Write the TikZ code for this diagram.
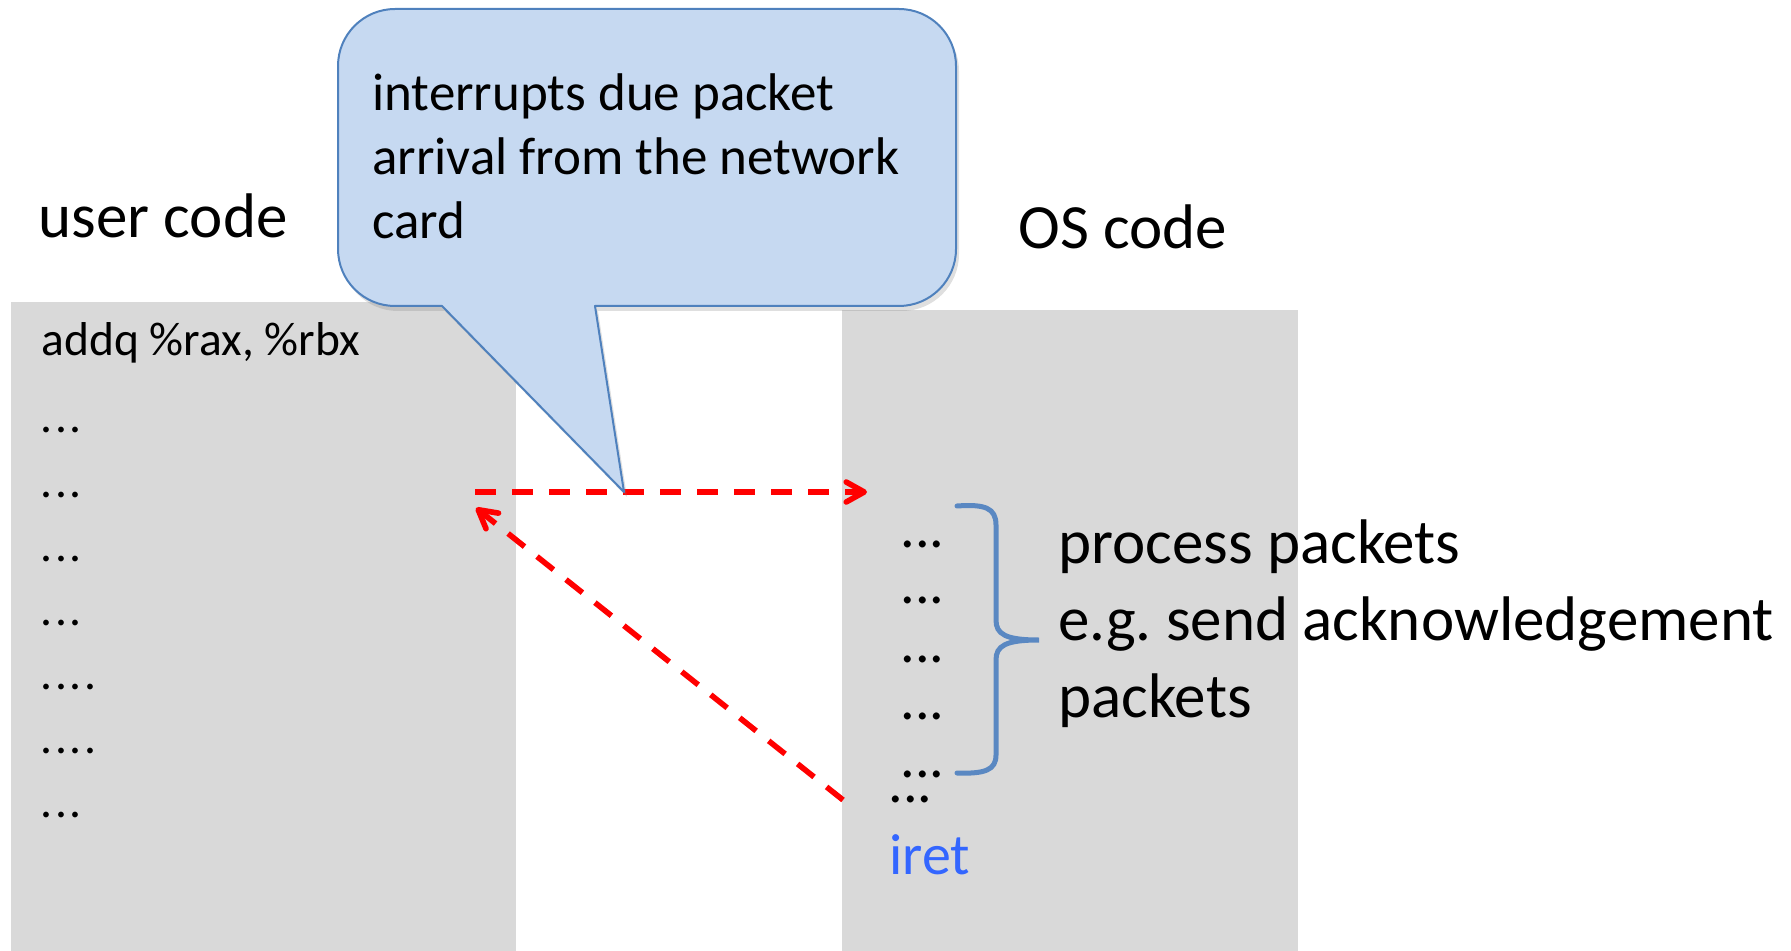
\documentclass[tikz,border=0pt]{standalone}
\usepackage{fontspec}
\setmainfont{Carlito}
\frenchspacing
\usetikzlibrary{arrows.meta,shadows}
\definecolor{panelgray}{HTML}{D9D9D9}
\definecolor{calloutfill}{HTML}{C6D9F1}
\definecolor{calloutline}{HTML}{4F81BD}
\definecolor{bracecol}{HTML}{5A88C2}
\definecolor{iretblue}{HTML}{3366FF}
\definecolor{arrowred}{HTML}{FF0000}
% spaced-out row of dots in the listings
\newcommand{\threedots}{.\kern1.4pt.\kern1.4pt.}
\newcommand{\fourdots}{.\kern1.4pt.\kern1.4pt.\kern1.4pt.}
\tikzset{
  panel/.style={fill=panelgray, draw=none, anchor=north west, inner sep=0},
  biglabel/.style={font=\fontsize{31.5pt}{38pt}\selectfont, anchor=base west, inner sep=0},
  callouttext/.style={font=\fontsize{26.5pt}{32pt}\selectfont, anchor=base west, inner sep=0},
  codetext/.style={font=\fontsize{23.75pt}{28pt}\selectfont, anchor=base west, inner sep=0},
  ostext/.style={font=\fontsize{29pt}{34pt}\selectfont, anchor=base west, inner sep=0},
  flow/.style={arrowred, line width=2.8pt, dash pattern=on 10.5pt off 8pt,
    -{Straight Barb[length=9pt,width=10pt,line cap=round,line join=round]}},
}
\begin{document}
\begin{tikzpicture}[x=0.5pt,y=-0.5pt]
\useasboundingbox (0,0) rectangle (1791,951);

% code panels
\node[panel, minimum width=252.5pt, minimum height=324.5pt] (userpanel) at (11,302) {};
\node[panel, minimum width=228pt, minimum height=320.5pt] (ospanel) at (842,310) {};

% headings
\node[biglabel] (usercode) at (38,238) {user code};
\node[biglabel] (oscode) at (1018,249) {OS code};

% user code listing
\node[codetext] (addq) at (41,356) {addq \%rax, \%rbx};
\node[codetext] (u1) at (40,433) {\threedots};
\node[codetext] (u2) at (40,497) {\threedots};
\node[codetext] (u3) at (40,561) {\threedots};
\node[codetext] (u4) at (40,625) {\threedots};
\node[codetext] (u5) at (40,689) {\fourdots};
\node[codetext] (u6) at (40,753) {\fourdots};
\node[codetext] (u7) at (40,817) {\threedots};

% OS handler listing
\node[ostext] (o1) at (900,547) {...};
\node[ostext] (o2) at (900,603) {...};
\node[ostext] (o3) at (900,662) {...};
\node[ostext] (o4) at (900,719) {...};
\node[ostext] (o5) at (900,777) {...};
\node[ostext] (o6) at (888,802) {...};
\node[ostext, text=iretblue] (iret) at (889,874) {iret};

% brace and its description
\draw[bracecol, line width=2.5pt, line cap=round]
  (957,506) .. controls (985,504) and (996,508) .. (996,525)
  -- (996,620) .. controls (996,634) and (1005,640) .. (1039,640)
  .. controls (1005,640) and (996,646) .. (996,660)
  -- (996,755) .. controls (996,770) and (985,774) .. (957,773);
\node[biglabel] (proc1) at (1058,563) {process packets};
\node[biglabel] (proc2) at (1058,640) {e.g. send acknowledgement};
\node[biglabel] (proc3) at (1058,717) {packets};

% interrupt transfer and return
\coordinate (intfrom) at (475,492);
\coordinate (intto) at (867,492);
\coordinate (retfrom) at (843,800);
\coordinate (retto) at (476,508);
\draw[flow] (intfrom) -- (intto);
\draw[flow] (retfrom) -- (retto);

% speech bubble
\draw[calloutline, fill=calloutfill, line width=1pt, line join=round,
      drop shadow={opacity=0.25, shadow xshift=1.5pt, shadow yshift=-2.5pt}]
  (442,306) -- (395,306)
  arc[start angle=270, end angle=180, radius=28.5pt]
  -- (338,66)
  arc[start angle=180, end angle=90, radius=28.5pt]
  -- (899,9)
  arc[start angle=90, end angle=0, radius=28.5pt]
  -- (956,249)
  arc[start angle=0, end angle=-90, radius=28.5pt]
  -- (595,306) -- (624,492) -- cycle;
\node[callouttext] (bub1) at (372,111) {interrupts due packet};
\node[callouttext] (bub2) at (372,175) {arrival from the network};
\node[callouttext] (bub3) at (372,239) {card};
\end{tikzpicture}
\end{document}
